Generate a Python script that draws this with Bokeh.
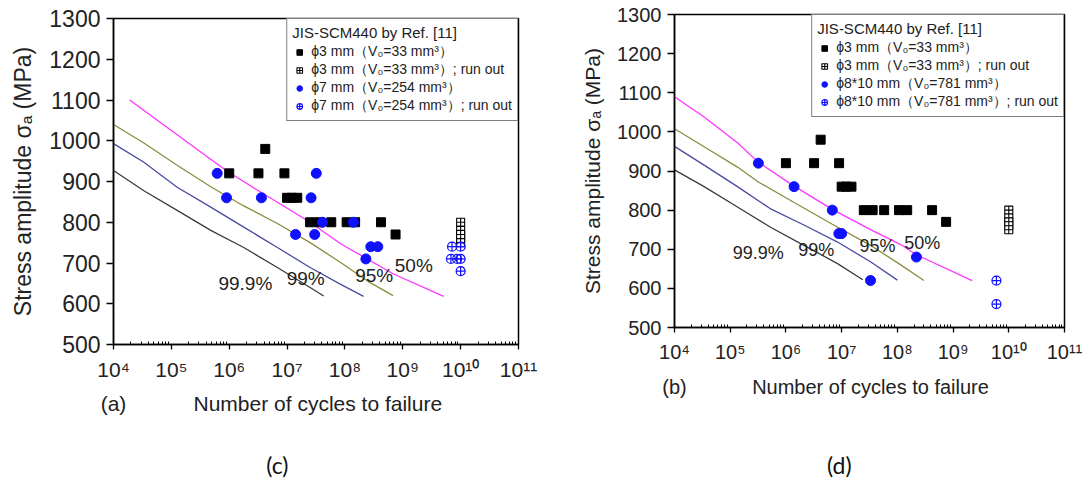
from bokeh.plotting import figure
from bokeh.models import (Legend, LegendItem, FixedTicker, LogAxis,
                          CustomJSTickFormatter, Range1d)
from bokeh.layouts import row
from bokeh.embed import file_html
from bokeh.resources import INLINE

# ---------------- data ----------------
stress_ticks = [500, 600, 700, 800, 900, 1000, 1100, 1200, 1300]
cycle_ticks = [1e4, 1e5, 1e6, 1e7, 1e8, 1e9, 1e10, 1e11]

# phi 3 mm specimens (same series in both panels)
phi3_N = [1.0e6, 3.2e6, 4.2e6, 9.0e6, 1.0e7, 1.2e7, 1.5e7,
          2.5e7, 3.6e7, 5.8e7, 1.07e8, 1.5e8, 4.2e8, 7.5e8]
phi3_S = [920, 920, 980, 920, 860, 860, 860,
          800, 800, 800, 800, 800, 800, 770]
phi3_runout_N = [1.0e10, 1.0e10, 1.0e10, 1.0e10, 1.0e10]
phi3_runout_S = [800, 780, 770, 760, 750]

# panel (a): phi 7 mm
phi7_N = [6.2e5, 9.0e5, 3.6e6, 3.2e7, 2.6e7, 4.1e7, 1.4e8,
          1.4e7, 3.0e7, 2.8e8, 3.7e8, 2.3e8]
phi7_S = [920, 860, 860, 920, 860, 800, 800,
          770, 770, 740, 740, 710]
phi7_runout_N = [7.1e9, 1.0e10, 6.8e9, 8.7e9, 1.0e10, 1.0e10]
phi7_runout_S = [740, 740, 710, 710, 710, 680]

a_p50_N = [1.9e4, 9.2e5, 3.6e6, 2.5e7, 8.3e7, 6.9e8, 5.1e9]
a_p50_S = [1100, 925, 873, 800, 748, 673, 618]
a_p95_N = [1.0e4, 3.3e4, 1.26e5, 4.8e5, 1.78e6, 6.8e6, 2.5e7, 8.3e7, 2.5e8, 6.8e8]
a_p95_S = [1040, 995, 940, 887, 840, 797, 750, 702, 655, 620]
a_p99_N = [1.0e4, 3.3e4, 1.26e5, 4.8e5, 1.78e6, 6.8e6, 2.5e7, 8.3e7, 2.1e8]
a_p99_S = [993, 948, 886, 837, 788, 738, 689, 648, 618]
a_p999_N = [1.0e4, 3.3e4, 1.26e5, 4.8e5, 1.78e6, 6.8e6, 2.5e7, 4.3e7]
a_p999_S = [927, 878, 829, 780, 738, 689, 640, 619]

# panel (b): phi 8*10 mm
phi8_N = [3.2e5, 1.4e6, 6.8e6, 8.9e6, 1.0e7, 3.3e7, 2.2e8]
phi8_S = [920, 860, 800, 740, 740, 620, 680]
phi8_runout_N = [6.0e9, 6.0e9]
phi8_runout_S = [620, 560]

b_p50_N = [1.0e4, 3.4e4, 1.35e5, 3.2e5, 1.38e6, 6.8e6, 3.3e7, 1.15e8, 2.2e8, 2.2e9]
b_p50_S = [1090, 1038, 972, 922, 862, 802, 750, 712, 686, 620]
b_p95_N = [1.0e4, 3.4e4, 1.35e5, 3.2e5, 1.38e6, 6.8e6, 3.3e7, 1.15e8, 3.0e8]
b_p95_S = [1008, 962, 910, 872, 820, 764, 710, 660, 620]
b_p99_N = [1.0e4, 3.4e4, 1.35e5, 5.2e5, 2.1e6, 8.3e6, 3.3e7, 1.0e8]
b_p99_S = [963, 915, 860, 804, 762, 719, 668, 621]
b_p999_N = [1.0e4, 3.4e4, 1.35e5, 5.2e5, 2.1e6, 8.3e6, 2.4e7]
b_p999_S = [903, 860, 808, 757, 710, 664, 622]

prob_labels = ["99.9%", "99%", "95%", "50%"]
a_label_N = [1.9e6, 2.1e7, 3.2e8, 1.55e9]
a_label_S = [649, 661, 669, 693]
b_label_N = [3.2e5, 3.5e6, 4.4e7, 2.8e8]
b_label_S = [690, 699, 709, 715]

X_TITLE = "Number of cycles to failure"
Y_TITLE = "Stress amplitude σₐ (MPa)"

CURVE_COLORS = ["#3c3c3c", "#4a4aa0", "#8c8c40", "#ff33ff"]
BLUE = "#1010ff"
SANS = "Liberation Sans"

SUP = CustomJSTickFormatter(code="""
const s = {"0":"\u2070","1":"\u00b9","2":"\u00b2","3":"\u00b3","4":"\u2074",
           "5":"\u2075","6":"\u2076","7":"\u2077","8":"\u2078","9":"\u2079"};
const e = Math.round(Math.log10(tick));
return "10" + String(e).split("").map(c => s[c]).join("");
""")


def text_row(p, positions, captions, font, size, standoff, color="#222222"):
    """A tick-less axis below the plot used to set a row of captions."""
    fmt = CustomJSTickFormatter(
        args=dict(pos=positions, caps=captions),
        code="""
let k = -1;
for (let j = 0; j < pos.length; j++) {
  if (Math.abs(Math.log10(pos[j]) - Math.log10(tick)) < 1e-6) { k = j; }
}
return k >= 0 ? caps[k] : "";
""")
    ax = LogAxis(ticker=FixedTicker(ticks=positions), formatter=fmt)
    ax.axis_line_color = None
    ax.major_tick_line_color = None
    ax.minor_tick_line_color = None
    ax.major_tick_out = 0
    ax.major_tick_in = 0
    ax.minor_tick_out = 0
    ax.major_label_standoff = standoff
    ax.major_label_text_font = font
    ax.major_label_text_font_size = f"{size}px"
    ax.major_label_text_color = color
    p.add_layout(ax, "below")


def make_panel(width, frame_l, frame_r, frame_t, frame_b, ytick_fs, xtick_fs,
               ylab_fs, xlab_fs,
               curves, specimens, spec_label, spec_runout_label,
               lab_N, lab_S, lab_fs_pct, legend_fs,
               caption_N, caption_text, caption_standoff,
               tag_N, tag_text, tag_standoff):
    p = figure(width=width, height=481, x_axis_type="log",
               x_range=Range1d(1e4, 1e11), y_range=Range1d(500, 1300),
               output_backend="svg", toolbar_location=None,
               min_border_left=frame_l, min_border_right=frame_r,
               min_border_top=frame_t, min_border_bottom=frame_b,
               frame_align=False)
    p.grid.visible = False
    p.outline_line_color = "black"
    p.outline_line_width = 1.5
    p.background_fill_color = "white"
    p.border_fill_color = "white"

    # axes
    xa, ya = p.xaxis[0], p.yaxis[0]
    xa.ticker = FixedTicker(ticks=cycle_ticks,
                            minor_ticks=[m * d for d in cycle_ticks[:-1] for m in range(2, 10)])
    xa.formatter = SUP
    ya.ticker = FixedTicker(ticks=stress_ticks)
    for ax in (xa, ya):
        ax.axis_line_width = 1.5
        ax.major_tick_line_width = 1.3
        ax.major_label_text_font = SANS
        ax.major_label_text_color = "#222222"
        ax.axis_label_text_font = SANS
        ax.axis_label_text_font_style = "normal"
        ax.axis_label_text_color = "#222222"
    xa.major_tick_in, xa.major_tick_out = 0, 5
    xa.minor_tick_in, xa.minor_tick_out = 3, 0
    xa.major_label_standoff = 8
    xa.major_label_text_font_size = f"{xtick_fs}px"
    ya.major_tick_in, ya.major_tick_out = 0, 7
    ya.minor_tick_line_color = None
    ya.major_label_standoff = 6
    ya.major_label_text_font_size = f"{ytick_fs}px"
    ya.axis_label = Y_TITLE
    ya.axis_label_text_font_size = f"{ylab_fs}px"
    ya.axis_label_standoff = 10

    # x title with the panel letter on the same row, then the figure tag
    text_row(p, caption_N, caption_text, SANS, xlab_fs, caption_standoff)
    text_row(p, tag_N, tag_text, "Lato", 23, tag_standoff, "#111111")

    # P-S-N curves
    for (n, s), c in zip(curves, CURVE_COLORS):
        p.line(n, s, line_color=c, line_width=1.3)

    # probability labels
    p.text(x=lab_N, y=lab_S, text=prob_labels, text_align="center",
           text_baseline="middle", text_font_size=f"{lab_fs_pct}px",
           text_color="#222222", text_font={"value": SANS})

    (n3, s3), (n3r, s3r), (nb, sb), (nbr, sbr) = specimens
    r1 = p.scatter(n3, s3, marker="square", size=9, fill_color="black",
                   line_color="black")
    r2 = p.scatter(n3r, s3r, marker="square_cross", size=8, fill_color="white",
                   line_color="black", line_width=1.1)
    r3 = p.scatter(nb, sb, marker="circle", size=10, fill_color=BLUE,
                   line_color=BLUE)
    r4 = p.scatter(nbr, sbr, marker="circle_cross", size=9, fill_color=None,
                   line_color=BLUE, line_width=1.2)

    items = [
        LegendItem(label="ϕ3 mm（V₀=33 mm³）", renderers=[r1]),
        LegendItem(label="ϕ3 mm（V₀=33 mm³）; run out", renderers=[r2]),
        LegendItem(label=spec_label, renderers=[r3]),
        LegendItem(label=spec_runout_label, renderers=[r4]),
    ]
    leg = Legend(items=items, location="top_right", title="JIS-SCM440 by Ref. [11]",
                 title_text_font=SANS, title_text_font_size=f"{legend_fs + 1}px",
                 title_text_font_style="normal", title_text_color="#222222",
                 title_standoff=2,
                 label_text_font=SANS, label_text_font_size=f"{legend_fs}px",
                 label_text_color="#222222",
                 label_height=16, glyph_height=16, glyph_width=14,
                 label_standoff=5, spacing=0, padding=5, margin=0,
                 border_line_color="black", border_line_width=1.5,
                 background_fill_color="white", background_fill_alpha=1)
    p.add_layout(leg)
    return p


p1 = make_panel(
    545, 113, 27, 18, 137, 23, 21, 23, 21,
    [(a_p999_N, a_p999_S), (a_p99_N, a_p99_S), (a_p95_N, a_p95_S), (a_p50_N, a_p50_S)],
    [(phi3_N, phi3_S), (phi3_runout_N, phi3_runout_S),
     (phi7_N, phi7_S), (phi7_runout_N, phi7_runout_S)],
    "ϕ7 mm（V₀=254 mm³）", "ϕ7 mm（V₀=254 mm³）; run out",
    a_label_N, a_label_S, 19, 14,
    [1.0e4, 3.4e7], ["(a)", X_TITLE], 8,
    [6.8e6], ["(c)"], 33)

p2 = make_panel(
    539, 129, 20, 14, 154, 20, 20, 21, 20,
    [(b_p999_N, b_p999_S), (b_p99_N, b_p99_S), (b_p95_N, b_p95_S), (b_p50_N, b_p50_S)],
    [(phi3_N, phi3_S), (phi3_runout_N, phi3_runout_S),
     (phi8_N, phi8_S), (phi8_runout_N, phi8_runout_S)],
    "ϕ8*10 mm（V₀=781 mm³）", "ϕ8*10 mm（V₀=781 mm³）; run out",
    b_label_N, b_label_S, 18, 14,
    [1.0e4, 3.3e7], ["(b)", X_TITLE], 10,
    [9.1e6], ["(d)"], 50)

layout = row(p1, p2, spacing=0)
open("out.html", "w").write(file_html(layout, INLINE))
